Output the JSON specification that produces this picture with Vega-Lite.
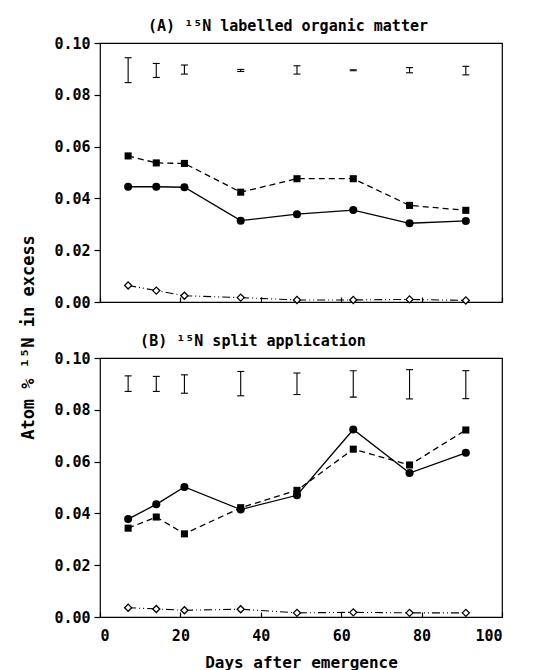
{
  "$schema": "https://vega.github.io/schema/vega-lite/v6.json",
  "padding": {"left": 18, "top": 18, "right": 20, "bottom": 0},
  "bounds": "flush",
  "spacing": 56,
  "config": {
    "view": {"stroke": "black", "strokeWidth": 1.2},
    "axis": {"grid": false, "domain": false, "labelFont": "DejaVu Sans Mono", "labelFontWeight": "bold", "labelFontSize": 15, "labelColor": "black", "tickColor": "black", "tickWidth": 1.2, "titleFont": "DejaVu Sans Mono", "titleFontWeight": "bold", "titleFontSize": 16, "titleColor": "black"},
    "title": {"font": "DejaVu Sans Mono", "fontWeight": "bold", "fontSize": 15, "color": "black"}
  },
  "datasets": {
    "A": [
      {"day": 7, "sq": 0.0564, "ci": 0.0445, "di": 0.0064, "lo": 0.0847, "hi": 0.0943},
      {"day": 14, "sq": 0.0537, "ci": 0.0445, "di": 0.0044, "lo": 0.0867, "hi": 0.0921},
      {"day": 21, "sq": 0.0535, "ci": 0.0443, "di": 0.0024, "lo": 0.0880, "hi": 0.0915},
      {"day": 35, "sq": 0.0424, "ci": 0.0314, "di": 0.0017, "lo": 0.0890, "hi": 0.0898},
      {"day": 49, "sq": 0.0476, "ci": 0.0339, "di": 0.0008, "lo": 0.0880, "hi": 0.0912},
      {"day": 63, "sq": 0.0476, "ci": 0.0355, "di": 0.0008, "lo": 0.0893, "hi": 0.0897},
      {"day": 77, "sq": 0.0373, "ci": 0.0304, "di": 0.0010, "lo": 0.0885, "hi": 0.0905},
      {"day": 91, "sq": 0.0354, "ci": 0.0313, "di": 0.0006, "lo": 0.0877, "hi": 0.0910}
    ],
    "B": [
      {"day": 7, "sq": 0.0343, "ci": 0.0378, "di": 0.0036, "lo": 0.0871, "hi": 0.0931},
      {"day": 14, "sq": 0.0386, "ci": 0.0435, "di": 0.0031, "lo": 0.0871, "hi": 0.0929},
      {"day": 21, "sq": 0.0321, "ci": 0.0502, "di": 0.0026, "lo": 0.0864, "hi": 0.0935},
      {"day": 35, "sq": 0.0422, "ci": 0.0415, "di": 0.0030, "lo": 0.0854, "hi": 0.0948},
      {"day": 49, "sq": 0.0489, "ci": 0.0470, "di": 0.0016, "lo": 0.0859, "hi": 0.0942},
      {"day": 63, "sq": 0.0648, "ci": 0.0724, "di": 0.0018, "lo": 0.0849, "hi": 0.0951},
      {"day": 77, "sq": 0.0587, "ci": 0.0556, "di": 0.0016, "lo": 0.0842, "hi": 0.0955},
      {"day": 91, "sq": 0.0722, "ci": 0.0634, "di": 0.0016, "lo": 0.0843, "hi": 0.0951}
    ]
  },
  "vconcat": [
    {
      "width": 402,
      "height": 259,
      "title": {"text": "(A) ¹⁵N labelled organic matter", "offset": 2, "dx": -13},
      "data": {"name": "A"},
      "encoding": {
        "x": {"field": "day", "type": "quantitative", "scale": {"domain": [0, 100]},
              "axis": {"values": [0, 20, 40, 60, 80, 100], "labels": false, "tickSize": -5, "title": null}}
      },
      "layer": [
        {"mark": {"type": "line", "color": "black", "strokeWidth": 1.3},
         "encoding": {"y": {"field": "ci", "type": "quantitative", "scale": {"domain": [0, 0.1]},
           "axis": {"values": [0, 0.02, 0.04, 0.06, 0.08, 0.1], "format": ".2f", "tickSize": 6, "labelPadding": 4, "title": "Atom % ¹⁵N in excess", "titleY": 294, "titleX": -72, "titleAngle": -90, "titleBaseline": "middle", "titleAlign": "center", "titleFontSize": 17}}}},
        {"mark": {"type": "line", "color": "black", "strokeWidth": 1.3, "strokeDash": [6, 4]},
         "encoding": {"y": {"field": "sq", "type": "quantitative",
           "axis": {"values": [0, 0.02, 0.04, 0.06, 0.08, 0.1], "format": ".2f", "tickSize": 6, "labelPadding": 4, "title": "Atom % ¹⁵N in excess", "titleY": 294, "titleX": -72, "titleAngle": -90, "titleBaseline": "middle", "titleAlign": "center", "titleFontSize": 17}}}},
        {"mark": {"type": "line", "color": "black", "strokeWidth": 1.1, "strokeDash": [8, 3, 1, 3, 1, 3]},
         "encoding": {"y": {"field": "di", "type": "quantitative",
           "axis": {"values": [0, 0.02, 0.04, 0.06, 0.08, 0.1], "format": ".2f", "tickSize": 6, "labelPadding": 4, "title": "Atom % ¹⁵N in excess", "titleY": 294, "titleX": -72, "titleAngle": -90, "titleBaseline": "middle", "titleAlign": "center", "titleFontSize": 17}}}},
        {"mark": {"type": "point", "shape": "circle", "filled": true, "color": "black", "size": 65, "opacity": 1},
         "encoding": {"y": {"field": "ci", "type": "quantitative",
           "axis": {"values": [0, 0.02, 0.04, 0.06, 0.08, 0.1], "format": ".2f", "tickSize": 6, "labelPadding": 4, "title": "Atom % ¹⁵N in excess", "titleY": 294, "titleX": -72, "titleAngle": -90, "titleBaseline": "middle", "titleAlign": "center", "titleFontSize": 17}}}},
        {"mark": {"type": "point", "shape": "square", "filled": true, "color": "black", "size": 50, "opacity": 1},
         "encoding": {"y": {"field": "sq", "type": "quantitative",
           "axis": {"values": [0, 0.02, 0.04, 0.06, 0.08, 0.1], "format": ".2f", "tickSize": 6, "labelPadding": 4, "title": "Atom % ¹⁵N in excess", "titleY": 294, "titleX": -72, "titleAngle": -90, "titleBaseline": "middle", "titleAlign": "center", "titleFontSize": 17}}}},
        {"mark": {"type": "point", "shape": "diamond", "filled": true, "fill": "white", "stroke": "black", "strokeWidth": 1.3, "size": 50, "opacity": 1},
         "encoding": {"y": {"field": "di", "type": "quantitative",
           "axis": {"values": [0, 0.02, 0.04, 0.06, 0.08, 0.1], "format": ".2f", "tickSize": 6, "labelPadding": 4, "title": "Atom % ¹⁵N in excess", "titleY": 294, "titleX": -72, "titleAngle": -90, "titleBaseline": "middle", "titleAlign": "center", "titleFontSize": 17}}}},
        {"mark": {"type": "rule", "color": "black", "strokeWidth": 1.1},
         "encoding": {"y": {"field": "lo", "type": "quantitative",
           "axis": {"values": [0, 0.02, 0.04, 0.06, 0.08, 0.1], "format": ".2f", "tickSize": 6, "labelPadding": 4, "title": "Atom % ¹⁵N in excess", "titleY": 294, "titleX": -72, "titleAngle": -90, "titleBaseline": "middle", "titleAlign": "center", "titleFontSize": 17}}, "y2": {"field": "hi"}}},
        {"mark": {"type": "tick", "orient": "horizontal", "color": "black", "size": 7, "thickness": 1.1, "opacity": 1},
         "encoding": {"y": {"field": "lo", "type": "quantitative",
           "axis": {"values": [0, 0.02, 0.04, 0.06, 0.08, 0.1], "format": ".2f", "tickSize": 6, "labelPadding": 4, "title": "Atom % ¹⁵N in excess", "titleY": 294, "titleX": -72, "titleAngle": -90, "titleBaseline": "middle", "titleAlign": "center", "titleFontSize": 17}}}},
        {"mark": {"type": "tick", "orient": "horizontal", "color": "black", "size": 7, "thickness": 1.1, "opacity": 1},
         "encoding": {"y": {"field": "hi", "type": "quantitative",
           "axis": {"values": [0, 0.02, 0.04, 0.06, 0.08, 0.1], "format": ".2f", "tickSize": 6, "labelPadding": 4, "title": "Atom % ¹⁵N in excess", "titleY": 294, "titleX": -72, "titleAngle": -90, "titleBaseline": "middle", "titleAlign": "center", "titleFontSize": 17}}}}
      ]
    },
    {
      "width": 402,
      "height": 259,
      "title": {"text": "(B) ¹⁵N split application", "offset": 2, "dx": -48},
      "data": {"name": "B"},
      "encoding": {
        "x": {"field": "day", "type": "quantitative", "scale": {"domain": [0, 100]},
              "axis": {"values": [0, 20, 40, 60, 80, 100], "tickSize": -5, "labelPadding": 16, "title": "Days after emergence", "titlePadding": 11}}
      },
      "layer": [
        {"mark": {"type": "line", "color": "black", "strokeWidth": 1.3},
         "encoding": {"y": {"field": "ci", "type": "quantitative", "scale": {"domain": [0, 0.1]},
           "axis": {"values": [0, 0.02, 0.04, 0.06, 0.08, 0.1], "format": ".2f", "tickSize": 6, "labelPadding": 4, "title": null}}}},
        {"mark": {"type": "line", "color": "black", "strokeWidth": 1.3, "strokeDash": [6, 4]},
         "encoding": {"y": {"field": "sq", "type": "quantitative",
           "axis": {"values": [0, 0.02, 0.04, 0.06, 0.08, 0.1], "format": ".2f", "tickSize": 6, "labelPadding": 4, "title": null}}}},
        {"mark": {"type": "line", "color": "black", "strokeWidth": 1.1, "strokeDash": [8, 3, 1, 3, 1, 3]},
         "encoding": {"y": {"field": "di", "type": "quantitative",
           "axis": {"values": [0, 0.02, 0.04, 0.06, 0.08, 0.1], "format": ".2f", "tickSize": 6, "labelPadding": 4, "title": null}}}},
        {"mark": {"type": "point", "shape": "circle", "filled": true, "color": "black", "size": 65, "opacity": 1},
         "encoding": {"y": {"field": "ci", "type": "quantitative",
           "axis": {"values": [0, 0.02, 0.04, 0.06, 0.08, 0.1], "format": ".2f", "tickSize": 6, "labelPadding": 4, "title": null}}}},
        {"mark": {"type": "point", "shape": "square", "filled": true, "color": "black", "size": 50, "opacity": 1},
         "encoding": {"y": {"field": "sq", "type": "quantitative",
           "axis": {"values": [0, 0.02, 0.04, 0.06, 0.08, 0.1], "format": ".2f", "tickSize": 6, "labelPadding": 4, "title": null}}}},
        {"mark": {"type": "point", "shape": "diamond", "filled": true, "fill": "white", "stroke": "black", "strokeWidth": 1.3, "size": 50, "opacity": 1},
         "encoding": {"y": {"field": "di", "type": "quantitative",
           "axis": {"values": [0, 0.02, 0.04, 0.06, 0.08, 0.1], "format": ".2f", "tickSize": 6, "labelPadding": 4, "title": null}}}},
        {"mark": {"type": "rule", "color": "black", "strokeWidth": 1.1},
         "encoding": {"y": {"field": "lo", "type": "quantitative",
           "axis": {"values": [0, 0.02, 0.04, 0.06, 0.08, 0.1], "format": ".2f", "tickSize": 6, "labelPadding": 4, "title": null}}, "y2": {"field": "hi"}}},
        {"mark": {"type": "tick", "orient": "horizontal", "color": "black", "size": 7, "thickness": 1.1, "opacity": 1},
         "encoding": {"y": {"field": "lo", "type": "quantitative",
           "axis": {"values": [0, 0.02, 0.04, 0.06, 0.08, 0.1], "format": ".2f", "tickSize": 6, "labelPadding": 4, "title": null}}}},
        {"mark": {"type": "tick", "orient": "horizontal", "color": "black", "size": 7, "thickness": 1.1, "opacity": 1},
         "encoding": {"y": {"field": "hi", "type": "quantitative",
           "axis": {"values": [0, 0.02, 0.04, 0.06, 0.08, 0.1], "format": ".2f", "tickSize": 6, "labelPadding": 4, "title": null}}}}
      ]
    }
  ]
}
